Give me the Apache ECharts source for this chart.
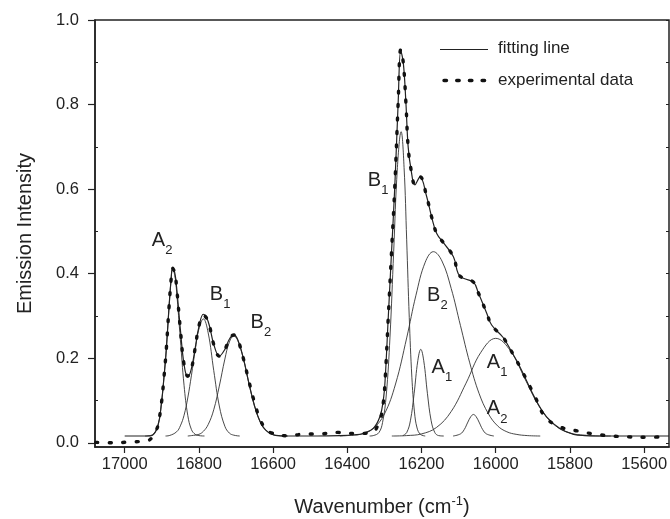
<!DOCTYPE html>
<html><head><meta charset="utf-8">
<script src="https://cdn.jsdelivr.net/npm/echarts@6/dist/echarts.min.js"></script>
<style>html,body{margin:0;padding:0;background:#fff}#c{width:670px;height:519px}</style>
</head><body><div id="c"></div><script>
// ---------- axis ticks ----------
const xTicks = [17000, 16800, 16600, 16400, 16200, 16000, 15800, 15600];
const yTicks = [0, 0.2, 0.4, 0.6, 0.8, 1.0];
const yMinorTicks = [0.1, 0.3, 0.5, 0.7, 0.9];

// ---------- fitted (sum) line ----------
const fitWavenumber = [17000, 16960, 16940, 16925, 16910, 16901, 16894, 16888, 16881, 16875, 16871, 16865, 16860, 16850, 16840, 16830, 16820, 16810, 16800, 16788, 16775, 16760, 16745, 16730, 16718, 16706, 16695, 16680, 16665, 16650, 16635, 16620, 16600, 16580, 16560, 16480, 16420, 16380, 16357, 16330, 16312, 16303, 16298, 16290, 16281, 16272, 16263, 16256, 16249, 16242, 16236, 16228, 16218, 16204, 16186, 16173, 16159, 16140, 16114, 16101, 16087, 16060, 16047, 16024, 16011, 15980, 15962, 15935, 15894, 15863, 15827, 15790, 15760, 15700, 15533];
const fitIntensity = [0.016, 0.016, 0.016, 0.018, 0.042, 0.093, 0.156, 0.219, 0.314, 0.385, 0.413, 0.402, 0.367, 0.269, 0.185, 0.155, 0.176, 0.224, 0.274, 0.304, 0.287, 0.233, 0.205, 0.221, 0.245, 0.255, 0.243, 0.199, 0.140, 0.087, 0.050, 0.030, 0.019, 0.0165, 0.016, 0.016, 0.017, 0.019, 0.022, 0.034, 0.062, 0.101, 0.15, 0.29, 0.448, 0.606, 0.803, 0.927, 0.898, 0.803, 0.70, 0.645, 0.61, 0.629, 0.582, 0.535, 0.495, 0.472, 0.44, 0.40, 0.389, 0.38, 0.355, 0.306, 0.2785, 0.249, 0.223, 0.18, 0.105, 0.0615, 0.034, 0.02, 0.017, 0.016, 0.016];

// ---------- experimental data ----------
const expWavenumber = [17078, 17032, 16985, 16938, 16925, 16915, 16910, 16901, 16894, 16888, 16881, 16875, 16871, 16865, 16860, 16850, 16840, 16830, 16820, 16810, 16800, 16788, 16775, 16760, 16745, 16730, 16718, 16706, 16695, 16680, 16665, 16650, 16635, 16620, 16609, 16562, 16515, 16472, 16425, 16380, 16335, 16312, 16303, 16298, 16290, 16281, 16272, 16263, 16256, 16249, 16242, 16236, 16228, 16218, 16204, 16186, 16173, 16159, 16140, 16114, 16101, 16087, 16060, 16047, 16024, 16011, 15980, 15962, 15935, 15894, 15867, 15828, 15780, 15734, 15687, 15642, 15597, 15550];
const expIntensity = [0.001, 0.000, 0.002, 0.005, 0.014, 0.03, 0.042, 0.093, 0.156, 0.219, 0.314, 0.385, 0.413, 0.402, 0.367, 0.269, 0.185, 0.158, 0.176, 0.224, 0.276, 0.302, 0.287, 0.233, 0.205, 0.221, 0.245, 0.255, 0.243, 0.199, 0.145, 0.095, 0.055, 0.032, 0.0245, 0.0166, 0.0206, 0.021, 0.0245, 0.022, 0.024, 0.055, 0.095, 0.15, 0.29, 0.448, 0.606, 0.803, 0.93, 0.898, 0.803, 0.70, 0.645, 0.612, 0.629, 0.582, 0.535, 0.495, 0.472, 0.44, 0.40, 0.389, 0.38, 0.355, 0.306, 0.2785, 0.249, 0.223, 0.18, 0.109, 0.0615, 0.038, 0.028, 0.0206, 0.016, 0.014, 0.013, 0.014];

// ---------- fitted component bands [wavenumber, intensity] ----------
const bandA2left = [[16945,0.016],[16925,0.019],[16910,0.042],[16901,0.093],[16894,0.156],[16888,0.219],[16881,0.314],[16875,0.385],[16871,0.411],[16865,0.396],[16860,0.357],[16850,0.245],[16840,0.136],[16830,0.065],[16820,0.031],[16810,0.020],[16800,0.017],[16785,0.016]];
const bandB1left = [[16890,0.016],[16880,0.017],[16860,0.026],[16850,0.040],[16840,0.065],[16830,0.106],[16820,0.160],[16810,0.219],[16800,0.269],[16788,0.293],[16775,0.260],[16760,0.171],[16745,0.087],[16730,0.039],[16718,0.023],[16706,0.018],[16690,0.016]];
const bandB2left = [[16830,0.016],[16820,0.017],[16800,0.020],[16788,0.027],[16775,0.043],[16760,0.078],[16745,0.134],[16730,0.198],[16718,0.238],[16706,0.253],[16695,0.242],[16680,0.199],[16665,0.140],[16650,0.087],[16635,0.050],[16620,0.030],[16600,0.019],[16580,0.0165],[16560,0.016]];
const bandB1main = [[16340,0.016],[16330,0.017],[16315,0.024],[16305,0.048],[16295,0.113],[16285,0.250],[16275,0.453],[16265,0.651],[16255,0.736],[16247,0.651],[16240,0.480],[16233,0.296],[16226,0.155],[16219,0.073],[16212,0.035],[16203,0.020],[16190,0.016]];
const bandA1narrow = [[16250,0.017],[16240,0.024],[16230,0.052],[16220,0.116],[16210,0.194],[16202,0.221],[16194,0.194],[16184,0.116],[16174,0.052],[16164,0.024],[16154,0.017],[16140,0.016]];
const bandB2broad = [[16420,0.016],[16400,0.017],[16360,0.021],[16330,0.034],[16300,0.068],[16270,0.139],[16240,0.248],[16215,0.349],[16190,0.427],[16168,0.452],[16145,0.430],[16120,0.365],[16095,0.277],[16070,0.189],[16045,0.117],[16020,0.069],[15995,0.040],[15970,0.026],[15945,0.020],[15915,0.017],[15880,0.016]];
const bandA2narrow = [[16115,0.016],[16095,0.021],[16085,0.031],[16075,0.049],[16067,0.062],[16060,0.067],[16053,0.062],[16045,0.049],[16035,0.031],[16025,0.021],[16005,0.016]];
const bandA1broad = [[16280,0.016],[16240,0.017],[16200,0.021],[16160,0.036],[16120,0.074],[16080,0.141],[16040,0.214],[16000,0.247],[15960,0.217],[15920,0.149],[15880,0.082],[15840,0.041],[15800,0.023],[15760,0.018],[15720,0.016],[15690,0.016]];

// ---------- band labels ----------
const labelLetters = ['A', 'B', 'B', 'B', 'B', 'A', 'A', 'A'];
const labelSubs = ['2', '1', '2', '1', '2', '1', '1', '2'];
const labelWavenumber = [16927, 16771, 16661, 16345, 16185, 16173, 16024, 16024];
const labelIntensity = [0.478, 0.351, 0.284, 0.620, 0.348, 0.178, 0.189, 0.080];

// ---------- legend entries ----------
const legendNames = ['fitting line', 'experimental data'];

const FONT = '"Liberation Sans", Arial, Helvetica, sans-serif';
const INK = '#222';
const EXP_DASH = [2, 11.5];
const chart = echarts.init(document.getElementById('c'), null, {renderer: 'canvas'});
const pairs = (xs, ys) => xs.map((x, i) => [x, ys[i]]);
const band = (name, data) => ({
  name, type: 'line', data, smooth: 0.4, symbol: 'none', silent: true, z: 2,
  lineStyle: {color: '#333', width: 0.9}
});

const yAxisBase = {type: 'value', min: -0.01, max: 1.0, splitLine: {show: false}};

chart.setOption({
  animation: false,
  backgroundColor: '#fff',
  textStyle: {fontFamily: FONT},
  grid: {left: 95, right: 1, top: 20, bottom: 72, show: true, borderColor: INK, borderWidth: 1.5,
    backgroundColor: 'transparent', containLabel: false, outerBoundsMode: 'none'},
  xAxis: {
    type: 'value', min: 15533, max: 17080, inverse: true,
    axisLine: {show: true, onZero: false, lineStyle: {color: INK, width: 1.5}},
    axisTick: {show: true, customValues: xTicks, length: 6, lineStyle: {color: INK, width: 1.2}},
    axisLabel: {customValues: xTicks, fontSize: 16.5, color: INK, margin: 9, fontFamily: FONT,
      formatter: v => String(Math.round(v))},
    splitLine: {show: false},
    name: '{n|Wavenumber (cm}{s|-1}{n|)}',
    nameLocation: 'middle', nameGap: 48,
    nameTextStyle: {
      color: INK, fontFamily: FONT,
      rich: {
        n: {fontSize: 20, lineHeight: 24, color: INK, fontFamily: FONT},
        s: {fontSize: 13, lineHeight: 16, verticalAlign: 'top', color: INK, fontFamily: FONT}
      }
    }
  },
  yAxis: [
    Object.assign({}, yAxisBase, {
      position: 'left',
      axisLine: {show: true, onZero: false, lineStyle: {color: INK, width: 1.5}},
      axisTick: {show: true, customValues: yTicks, length: 7, lineStyle: {color: INK, width: 1.2}},
      axisLabel: {customValues: yTicks, fontSize: 16.5, color: INK, margin: 16, fontFamily: FONT,
        formatter: v => v.toFixed(1)},
      name: 'Emission Intensity', nameLocation: 'middle', nameGap: 60, nameRotate: 90,
      nameTextStyle: {fontSize: 20, color: INK, fontFamily: FONT}
    }),
    Object.assign({}, yAxisBase, {
      position: 'left',
      axisLine: {show: false},
      axisTick: {show: true, inside: true, customValues: yMinorTicks, length: 3, lineStyle: {color: INK, width: 1}},
      axisLabel: {show: false}
    }),
    Object.assign({}, yAxisBase, {
      position: 'right',
      axisLine: {show: false},
      axisTick: {show: true, inside: true, customValues: yMinorTicks.concat(yTicks), length: 3, lineStyle: {color: INK, width: 1}},
      axisLabel: {show: false}
    })
  ],
  series: [
    band('A2 band (16870)', bandA2left),
    band('B1 band (16790)', bandB1left),
    band('B2 band (16705)', bandB2left),
    band('B1 band (16255)', bandB1main),
    band('A1 band (16202)', bandA1narrow),
    band('B2 band (16168)', bandB2broad),
    band('A2 band (16060)', bandA2narrow),
    band('A1 band (16000)', bandA1broad),
    {
      name: legendNames[0], type: 'line', data: pairs(fitWavenumber, fitIntensity),
      smooth: 0.4, symbol: 'none', z: 3,
      lineStyle: {color: INK, width: 1.2}
    },
    {
      name: legendNames[1], type: 'line', data: pairs(expWavenumber, expIntensity),
      smooth: 0.4, symbol: 'none', z: 4,
      lineStyle: {color: '#111', width: 3.4, type: EXP_DASH, cap: 'round'}
    }
  ]
});

const graphics = [];
labelLetters.forEach((L, i) => {
  const p = chart.convertToPixel({gridIndex: 0}, [labelWavenumber[i], labelIntensity[i]]);
  graphics.push({type: 'text', x: p[0], y: p[1], silent: true, z: 10,
    style: {text: L, font: '20px ' + FONT, fill: INK, align: 'left', verticalAlign: 'middle'}});
  graphics.push({type: 'text', x: p[0] + 13.5, y: p[1] + 10, silent: true, z: 10,
    style: {text: labelSubs[i], font: '13px ' + FONT, fill: INK, align: 'left', verticalAlign: 'middle'}});
});
// legend (drawn as a key box in the upper right of the plot)
graphics.push({type: 'line', silent: true, z: 10,
  shape: {x1: 440, y1: 49.5, x2: 488, y2: 49.5}, style: {stroke: INK, lineWidth: 1.2}});
graphics.push({type: 'text', x: 498, y: 48.5, silent: true, z: 10,
  style: {text: legendNames[0], font: '17px ' + FONT, fill: INK, align: 'left', verticalAlign: 'middle'}});
graphics.push({type: 'line', silent: true, z: 10,
  shape: {x1: 444, y1: 80.5, x2: 486, y2: 80.5}, style: {stroke: '#111', lineWidth: 3.4, lineDash: [2.5, 10.2], lineCap: 'round'}});
graphics.push({type: 'text', x: 498, y: 80.5, silent: true, z: 10,
  style: {text: legendNames[1], font: '17px ' + FONT, fill: INK, align: 'left', verticalAlign: 'middle'}});
chart.setOption({graphic: graphics});
</script></body></html>
